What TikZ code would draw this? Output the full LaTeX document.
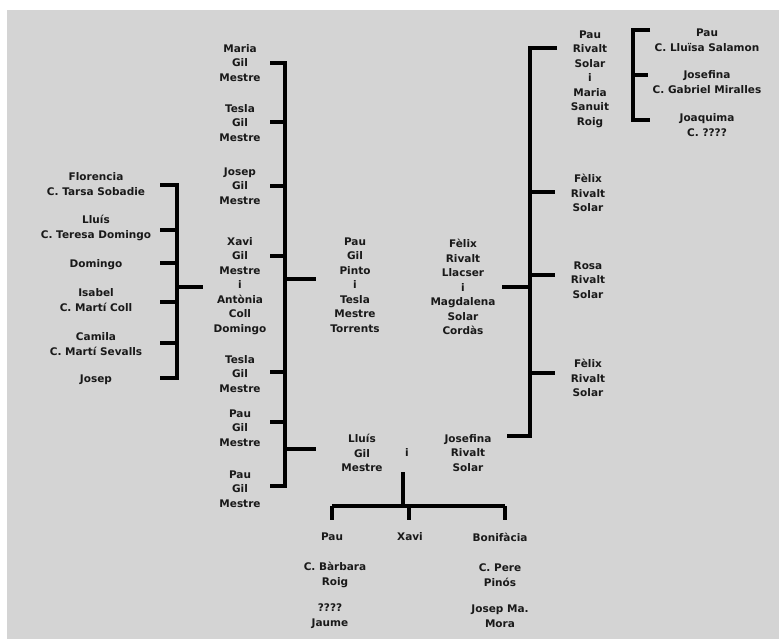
\documentclass[tikz,border=0pt]{standalone}
\usepackage{fontspec}
\setmainfont{DejaVu Sans}
\begin{document}
\begin{tikzpicture}[x=1pt,y=-1pt,
  person/.style={font=\fontsize{10.5}{14.5}\selectfont\bfseries, align=center, inner sep=0pt, text=black!90},
  conn/.style={line width=3.6pt, draw=black}]
\useasboundingbox (0,0) rectangle (779,639);
\fill[white] (0,0) rectangle (779,639);
\fill[black!17] (7,10) rectangle (779,639);

% children of Pau Gil Pinto
\node[person] (maria)  at (240,63)  {Maria\\Gil\\Mestre};
\node[person] (tesla1) at (240,123) {Tesla\\Gil\\Mestre};
\node[person] (josep1) at (240,186) {Josep\\Gil\\Mestre};
\node[person] (xavi)   at (240,286) {Xavi\\Gil\\Mestre\\i\\Antònia\\Coll\\Domingo};
\node[person] (tesla2) at (240,374) {Tesla\\Gil\\Mestre};
\node[person] (pau1)   at (240,428) {Pau\\Gil\\Mestre};
\node[person] (pau2)   at (240,489) {Pau\\Gil\\Mestre};

% children of Xavi
\node[person] (flor)   at (96,184) {Florencia\\C. Tarsa Sobadie};
\node[person] (lluis1) at (96,228) {Lluís\\C. Teresa Domingo};
\node[person] (doming) at (96,265) {Domingo};
\node[person] (isabel) at (96,300) {Isabel\\C. Martí Coll};
\node[person] (camila) at (96,344) {Camila\\C. Martí Sevalls};
\node[person] (josep2) at (96,380) {Josep};

% couples
\node[person] (paugp)  at (355,285) {Pau\\Gil\\Pinto\\i\\Tesla\\Mestre\\Torrents};
\node[person] (felix)  at (463,287) {Fèlix\\Rivalt\\Llacser\\i\\Magdalena\\Solar\\Cordàs};

% children of Felix
\node[person] (paur)   at (590,79)  {Pau\\Rivalt\\Solar\\i\\Maria\\Sanuit\\Roig};
\node[person] (felix2) at (588,193) {Fèlix\\Rivalt\\Solar};
\node[person] (rosa)   at (588,280) {Rosa\\Rivalt\\Solar};
\node[person] (felix3) at (588,378) {Fèlix\\Rivalt\\Solar};

% children of Pau Rivalt
\node[person] (paufr)  at (707,40)  {Pau\\C. Lluïsa Salamon};
\node[person] (josefr) at (707,82)  {Josefina\\C. Gabriel Miralles};
\node[person] (joaq)   at (707,125) {Joaquima\\C. ????};

% bottom couple
\node[person] (lluisgm) at (362,453) {Lluís\\Gil\\Mestre};
\node[person] (iand)    at (407,453) {i};
\node[person] (josefina) at (468,453) {Josefina\\Rivalt\\Solar};

\node[person] (pau3)   at (332,537) {Pau};
\node[person] (xavi2)  at (410,537) {Xavi};
\node[person] (bonif)  at (500,537) {Bonifàcia};
\node[person] (barb)   at (335,575) {C. Bàrbara\\Roig};
\node[person] (jaume)  at (330,616) {????\\Jaume};
\node[person] (pere)   at (500,575) {C. Pere\\Pinós};
\node[person] (josepma) at (500,616) {Josep Ma.\\Mora};

% coordinates
\coordinate (gA) at (285,63);  \coordinate (gB) at (285,486);
\coordinate (lA) at (177,185); \coordinate (lB) at (177,378);
\coordinate (rA) at (530,48);  \coordinate (rB) at (530,436);
\coordinate (fA) at (633,30);  \coordinate (fB) at (633,120);
\coordinate (tTop) at (403,472); \coordinate (tJ) at (403,506);
\coordinate (tL) at (332,506); \coordinate (tR) at (505,506);

% Gil bracket
\draw[conn] (270,63) -- (gA) -- (gB) -- (270,486);
\foreach \yy in {122,186,256,372,422} \draw[conn] (270,\yy) -- (285,\yy);
\draw[conn] (285,279) -- (316,279);
\draw[conn] (285,449) -- (316,449);

% Xavi bracket
\draw[conn] (160,185) -- (lA) -- (lB) -- (160,378);
\foreach \yy in {230,263,302,343} \draw[conn] (160,\yy) -- (177,\yy);
\draw[conn] (177,287) -- (203,287);

% Felix bracket
\draw[conn] (557,48) -- (rA) -- (rB) -- (507,436);
\foreach \yy in {192,275,373} \draw[conn] (530,\yy) -- (555,\yy);
\draw[conn] (502,287) -- (530,287);

% Pau Rivalt bracket
\draw[conn] (650,30) -- (fA) -- (fB) -- (650,120);
\draw[conn] (633,75) -- (648,75);

% bottom tree
\draw[conn] (tTop) -- (tJ);
\draw[conn] (tL) -- (tR);
\draw[conn] (tL) -- (332,520);
\draw[conn] (409,506) -- (409,520);
\draw[conn] (tR) -- (505,520);
\end{tikzpicture}
\end{document}
